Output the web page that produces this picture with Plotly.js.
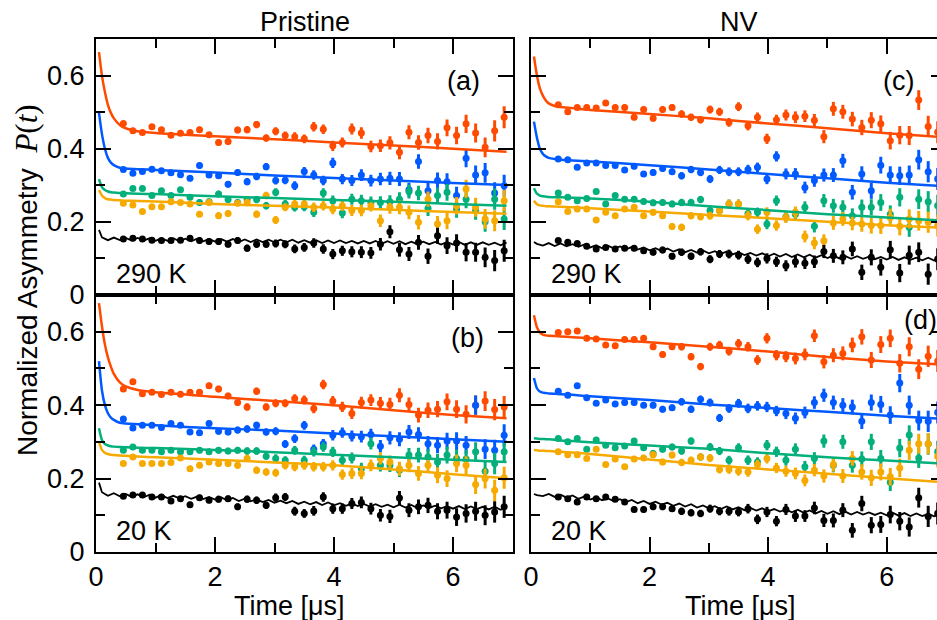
<!DOCTYPE html>
<html><head><meta charset="utf-8">
<script src="https://cdn.plot.ly/plotly-3.0.1.min.js"></script>
<style>html,body{margin:0;padding:0;overflow:hidden;background:#fff;width:937px;height:620px}</style>
</head><body><div id="plot" style="width:948px;height:620px"></div>
<script>
// ---- data ----
const times = [0.46,0.62,0.78,0.94,1.10,1.26,1.42,1.58,1.74,1.90,2.06,2.22,2.38,2.54,2.70,2.86,3.02,3.18,3.34,3.50,3.66,3.82,3.98,4.14,4.30,4.46,4.62,4.78,4.94,5.10,5.26,5.42,5.58,5.74,5.90,6.06,6.22,6.38,6.54,6.70,6.86];
const errBar = [0.006,0.006,0.006,0.007,0.007,0.007,0.007,0.008,0.008,0.008,0.009,0.009,0.009,0.010,0.010,0.010,0.011,0.011,0.012,0.012,0.013,0.013,0.014,0.014,0.015,0.016,0.016,0.017,0.018,0.019,0.019,0.020,0.021,0.022,0.023,0.024,0.025,0.026,0.027,0.029,0.030];

// (a) Pristine 290 K
const aRed = [0.469,0.449,0.444,0.460,0.452,0.437,0.442,0.444,0.452,0.438,0.417,0.420,0.451,0.452,0.466,0.429,0.448,0.436,0.433,0.427,0.460,0.453,0.408,0.417,0.454,0.443,0.406,0.408,0.416,0.390,0.445,0.417,0.436,0.420,0.457,0.436,0.468,0.443,0.404,0.449,0.486];
const aBlue = [0.343,0.333,0.338,0.344,0.340,0.334,0.329,0.319,0.354,0.328,0.326,0.303,0.335,0.310,0.324,0.351,0.313,0.314,0.299,0.338,0.328,0.313,0.361,0.317,0.313,0.328,0.313,0.317,0.319,0.317,0.288,0.365,0.285,0.313,0.310,0.272,0.374,0.328,0.334,0.279,0.299];
const aGreen = [0.276,0.291,0.291,0.272,0.285,0.272,0.288,0.267,0.253,0.255,0.276,0.261,0.253,0.261,0.261,0.244,0.281,0.249,0.240,0.241,0.226,0.279,0.258,0.224,0.262,0.258,0.253,0.253,0.255,0.262,0.283,0.279,0.237,0.272,0.281,0.235,0.262,0.232,0.200,0.262,0.208];
const aYellow = [0.251,0.246,0.228,0.241,0.241,0.255,0.253,0.249,0.221,0.253,0.217,0.223,0.251,0.253,0.221,0.272,0.205,0.240,0.249,0.249,0.240,0.244,0.235,0.244,0.231,0.231,0.244,0.203,0.240,0.240,0.226,0.199,0.262,0.194,0.203,0.244,0.290,0.240,0.208,0.203,0.258];
const aBlack = [0.153,0.155,0.153,0.150,0.149,0.149,0.150,0.155,0.149,0.146,0.146,0.139,0.149,0.128,0.139,0.139,0.141,0.139,0.126,0.130,0.142,0.126,0.112,0.121,0.118,0.117,0.115,0.139,0.173,0.124,0.112,0.144,0.106,0.162,0.135,0.142,0.117,0.117,0.103,0.094,0.121];

// (b) Pristine 20 K
const bRed = [0.444,0.464,0.431,0.435,0.429,0.435,0.430,0.435,0.435,0.453,0.444,0.425,0.407,0.395,0.438,0.395,0.405,0.405,0.418,0.414,0.391,0.456,0.411,0.395,0.377,0.407,0.414,0.405,0.402,0.427,0.402,0.373,0.386,0.389,0.409,0.389,0.375,0.400,0.411,0.388,0.395];
const bBlue = [0.362,0.338,0.345,0.345,0.339,0.350,0.345,0.327,0.325,0.350,0.329,0.327,0.332,0.335,0.345,0.327,0.329,0.294,0.309,0.345,0.280,0.295,0.318,0.325,0.316,0.314,0.320,0.288,0.311,0.307,0.327,0.320,0.295,0.291,0.302,0.302,0.291,0.400,0.280,0.277,0.318];
const bGreen = [0.277,0.286,0.277,0.277,0.273,0.277,0.273,0.273,0.277,0.273,0.277,0.275,0.277,0.275,0.275,0.261,0.255,0.250,0.277,0.250,0.273,0.286,0.273,0.250,0.256,0.227,0.295,0.236,0.236,0.223,0.264,0.264,0.259,0.245,0.264,0.255,0.253,0.273,0.220,0.241,0.273];
const bYellow = [0.241,0.259,0.241,0.241,0.241,0.244,0.256,0.227,0.236,0.245,0.241,0.241,0.236,0.255,0.223,0.218,0.216,0.236,0.232,0.236,0.232,0.232,0.236,0.211,0.214,0.214,0.236,0.255,0.245,0.227,0.236,0.214,0.236,0.209,0.200,0.241,0.236,0.184,0.200,0.168,0.202];
const bBlack = [0.152,0.155,0.155,0.150,0.150,0.139,0.145,0.129,0.148,0.141,0.144,0.145,0.123,0.144,0.141,0.127,0.148,0.150,0.111,0.105,0.112,0.150,0.118,0.118,0.132,0.135,0.118,0.100,0.097,0.147,0.114,0.123,0.127,0.111,0.114,0.095,0.105,0.111,0.100,0.109,0.123];

// (c) NV 290 K
const cRed = [0.520,0.501,0.513,0.513,0.511,0.525,0.513,0.513,0.486,0.507,0.483,0.507,0.513,0.495,0.486,0.479,0.507,0.501,0.472,0.515,0.463,0.486,0.427,0.479,0.492,0.486,0.489,0.478,0.433,0.509,0.501,0.481,0.458,0.478,0.468,0.422,0.437,0.436,0.533,0.461,0.445];
const cBlue = [0.372,0.370,0.349,0.361,0.361,0.354,0.354,0.342,0.352,0.331,0.335,0.346,0.337,0.326,0.343,0.335,0.317,0.342,0.337,0.337,0.343,0.349,0.317,0.379,0.331,0.331,0.294,0.313,0.328,0.328,0.367,0.281,0.331,0.285,0.355,0.328,0.326,0.328,0.370,0.337,0.317];
const cGreen = [0.279,0.267,0.258,0.264,0.283,0.249,0.272,0.262,0.262,0.256,0.252,0.253,0.249,0.253,0.253,0.261,0.231,0.231,0.249,0.249,0.223,0.226,0.194,0.258,0.214,0.221,0.240,0.188,0.258,0.244,0.240,0.217,0.240,0.240,0.253,0.221,0.267,0.185,0.262,0.255,0.244];
const cYellow = [0.255,0.228,0.235,0.235,0.205,0.226,0.217,0.235,0.240,0.217,0.226,0.217,0.187,0.185,0.217,0.214,0.217,0.231,0.249,0.249,0.217,0.180,0.226,0.190,0.212,0.226,0.160,0.142,0.148,0.197,0.208,0.197,0.194,0.190,0.190,0.212,0.188,0.208,0.203,0.199,0.190];
const cBlack = [0.149,0.144,0.141,0.133,0.126,0.130,0.126,0.128,0.128,0.121,0.117,0.123,0.106,0.117,0.106,0.118,0.098,0.112,0.112,0.109,0.098,0.089,0.100,0.091,0.080,0.091,0.087,0.091,0.119,0.107,0.103,0.126,0.062,0.103,0.076,0.124,0.060,0.109,0.117,0.057,0.098];

// (d) NV 20 K
const dRed = [0.598,0.600,0.602,0.582,0.580,0.564,0.562,0.579,0.579,0.582,0.559,0.538,0.559,0.559,0.532,0.505,0.559,0.564,0.547,0.568,0.559,0.523,0.582,0.536,0.532,0.527,0.538,0.589,0.518,0.536,0.541,0.564,0.586,0.523,0.565,0.582,0.514,0.559,0.498,0.533,0.520];
const dBlue = [0.438,0.427,0.453,0.420,0.405,0.414,0.403,0.407,0.407,0.400,0.400,0.389,0.393,0.409,0.389,0.416,0.407,0.365,0.391,0.405,0.391,0.398,0.395,0.384,0.377,0.364,0.380,0.407,0.427,0.407,0.400,0.395,0.356,0.407,0.402,0.373,0.460,0.400,0.358,0.356,0.380];
const dGreen = [0.309,0.300,0.309,0.280,0.305,0.291,0.284,0.289,0.302,0.284,0.268,0.280,0.286,0.275,0.302,0.259,0.286,0.275,0.250,0.284,0.250,0.245,0.291,0.273,0.250,0.280,0.232,0.255,0.302,0.236,0.300,0.236,0.253,0.300,0.255,0.190,0.283,0.319,0.256,0.294,0.273];
const dYellow = [0.273,0.265,0.265,0.255,0.280,0.238,0.253,0.232,0.253,0.256,0.265,0.245,0.264,0.244,0.250,0.259,0.256,0.225,0.225,0.220,0.218,0.238,0.255,0.229,0.220,0.214,0.195,0.223,0.207,0.238,0.207,0.255,0.218,0.202,0.218,0.205,0.229,0.277,0.295,0.295,0.260];
const dBlack = [0.150,0.145,0.136,0.150,0.145,0.150,0.144,0.136,0.116,0.116,0.123,0.123,0.118,0.111,0.107,0.105,0.118,0.111,0.111,0.109,0.118,0.089,0.109,0.084,0.116,0.098,0.098,0.120,0.086,0.086,0.114,0.059,0.132,0.073,0.075,0.102,0.084,0.068,0.148,0.097,0.105];

// ---- fit curves ----
const fitT = [0.05,0.1,0.15,0.2,0.25,0.3,0.4,0.5,0.7,1,2,3,4,5,6,6.9];
const aRedFit = [0.664,0.600,0.555,0.520,0.498,0.483,0.465,0.456,0.448,0.443,0.434,0.426,0.417,0.409,0.400,0.392];
const aBlueFit = [0.498,0.440,0.400,0.375,0.362,0.355,0.348,0.346,0.344,0.342,0.335,0.327,0.320,0.313,0.306,0.301];
const aGreenFit = [0.317,0.295,0.287,0.283,0.281,0.280,0.279,0.278,0.277,0.276,0.270,0.265,0.260,0.255,0.249,0.244];
const aYellowFit = [0.287,0.272,0.265,0.262,0.261,0.260,0.259,0.258,0.257,0.256,0.249,0.244,0.239,0.233,0.227,0.222];
const bRedFit = [0.678,0.615,0.565,0.530,0.505,0.485,0.462,0.451,0.441,0.435,0.423,0.411,0.400,0.386,0.373,0.364];
const bBlueFit = [0.520,0.440,0.400,0.378,0.366,0.360,0.352,0.350,0.348,0.345,0.337,0.331,0.323,0.315,0.307,0.300];
const bGreenFit = [0.337,0.305,0.294,0.290,0.288,0.287,0.286,0.285,0.284,0.283,0.278,0.272,0.265,0.258,0.251,0.245];
const bYellowFit = [0.300,0.278,0.270,0.267,0.265,0.264,0.263,0.262,0.260,0.258,0.251,0.244,0.236,0.225,0.212,0.201];
const cRedFit = [0.652,0.600,0.565,0.545,0.532,0.524,0.517,0.514,0.511,0.506,0.495,0.483,0.469,0.456,0.442,0.432];
const cBlueFit = [0.474,0.430,0.400,0.386,0.379,0.375,0.372,0.370,0.368,0.365,0.355,0.343,0.331,0.319,0.307,0.298];
const cGreenFit = [0.292,0.277,0.272,0.270,0.269,0.268,0.267,0.267,0.266,0.264,0.255,0.243,0.232,0.221,0.212,0.204];
const cYellowFit = [0.258,0.248,0.245,0.244,0.243,0.243,0.242,0.241,0.240,0.237,0.228,0.219,0.210,0.200,0.191,0.184];
const dRedFit = [0.645,0.612,0.598,0.592,0.590,0.589,0.588,0.587,0.585,0.582,0.571,0.559,0.546,0.531,0.519,0.511];
const dBlueFit = [0.474,0.446,0.437,0.434,0.433,0.432,0.431,0.430,0.428,0.424,0.414,0.402,0.392,0.382,0.371,0.363];
const dGreenFit = [0.310,0.309,0.308,0.308,0.307,0.307,0.306,0.304,0.302,0.299,0.290,0.281,0.269,0.258,0.249,0.241];
const dYellowFit = [0.278,0.277,0.276,0.276,0.275,0.275,0.274,0.273,0.271,0.267,0.252,0.237,0.225,0.213,0.201,0.191];

const blackFitT = [0.05,0.1,0.2,0.3,0.4,0.5,0.6,0.7,0.8,0.9,1.0,1.1,1.2,1.3,1.4,1.5,1.6,1.7,1.8,1.9,2.0,2.1,2.2,2.3,2.4,2.5,2.6,2.7,2.8,2.9,3.0,3.1,3.2,3.3,3.4,3.5,3.6,3.7,3.8,3.9,4.0,4.1,4.2,4.3,4.4,4.5,4.6,4.7,4.8,4.9,5.0,5.1,5.2,5.3,5.4,5.5,5.6,5.7,5.8,5.9,6.0,6.1,6.2,6.3,6.4,6.5,6.6,6.7,6.8,6.9];
const aBlackFit = [0.178,0.158,0.150,0.157,0.150,0.156,0.149,0.156,0.149,0.155,0.148,0.155,0.148,0.155,0.147,0.154,0.147,0.154,0.147,0.153,0.146,0.153,0.146,0.153,0.145,0.152,0.145,0.152,0.145,0.151,0.144,0.151,0.144,0.151,0.143,0.150,0.143,0.150,0.142,0.149,0.142,0.149,0.142,0.148,0.141,0.148,0.141,0.148,0.140,0.147,0.140,0.147,0.139,0.146,0.139,0.146,0.139,0.145,0.138,0.145,0.138,0.145,0.137,0.144,0.137,0.144,0.137,0.143,0.136,0.143];
const bBlackFit = [0.189,0.163,0.153,0.160,0.152,0.158,0.150,0.157,0.149,0.156,0.148,0.155,0.147,0.153,0.146,0.152,0.145,0.151,0.144,0.150,0.143,0.149,0.141,0.147,0.139,0.145,0.138,0.144,0.136,0.142,0.134,0.140,0.133,0.139,0.131,0.137,0.130,0.136,0.128,0.135,0.127,0.133,0.126,0.132,0.125,0.131,0.124,0.130,0.123,0.129,0.122,0.129,0.121,0.128,0.120,0.127,0.120,0.126,0.119,0.125,0.118,0.125,0.117,0.124,0.117,0.123,0.116,0.123,0.115,0.122];
const cBlackFit = [0.145,0.140,0.135,0.142,0.134,0.141,0.133,0.139,0.132,0.138,0.130,0.136,0.128,0.135,0.127,0.133,0.125,0.131,0.124,0.130,0.122,0.128,0.120,0.127,0.119,0.125,0.117,0.123,0.116,0.122,0.114,0.120,0.112,0.119,0.111,0.117,0.109,0.115,0.108,0.114,0.106,0.113,0.105,0.112,0.104,0.111,0.103,0.110,0.102,0.109,0.101,0.108,0.100,0.107,0.099,0.106,0.099,0.105,0.098,0.104,0.097,0.104,0.096,0.103,0.096,0.102,0.095,0.102,0.094,0.101];
const dBlackFit = [0.158,0.155,0.152,0.158,0.150,0.156,0.148,0.154,0.145,0.151,0.143,0.149,0.141,0.146,0.138,0.144,0.136,0.142,0.133,0.139,0.131,0.137,0.129,0.134,0.126,0.132,0.124,0.130,0.121,0.127,0.119,0.125,0.117,0.124,0.116,0.122,0.114,0.120,0.113,0.119,0.111,0.117,0.110,0.116,0.108,0.115,0.107,0.113,0.105,0.112,0.104,0.111,0.103,0.110,0.102,0.109,0.102,0.108,0.101,0.107,0.100,0.107,0.099,0.106,0.098,0.105,0.098,0.104,0.097,0.103];

const seriesColors = ['#FF4B00','#005AFF','#03AF7A','#F6AA00','#000000'];
const panelLabels = ['(a)','(b)','(c)','(d)'];
const tempLabels = ['290 K','20 K','290 K','20 K'];
const columnTitles = ['Pristine','NV'];

// ---- build traces ----
const panels = [
  {xa:'x',  ya:'y',  pts:[aRed,aBlue,aGreen,aYellow,aBlack], fits:[aRedFit,aBlueFit,aGreenFit,aYellowFit], blk:aBlackFit},
  {xa:'x2', ya:'y2', pts:[bRed,bBlue,bGreen,bYellow,bBlack], fits:[bRedFit,bBlueFit,bGreenFit,bYellowFit], blk:bBlackFit},
  {xa:'x3', ya:'y3', pts:[cRed,cBlue,cGreen,cYellow,cBlack], fits:[cRedFit,cBlueFit,cGreenFit,cYellowFit], blk:cBlackFit},
  {xa:'x4', ya:'y4', pts:[dRed,dBlue,dGreen,dYellow,dBlack], fits:[dRedFit,dBlueFit,dGreenFit,dYellowFit], blk:dBlackFit}
];
const traces = [];
panels.forEach(p => {
  p.pts.forEach((s, i) => {
    traces.push({x: times, y: s, xaxis: p.xa, yaxis: p.ya, mode: 'markers', type: 'scatter',
      marker: {color: seriesColors[i], size: 7, symbol: 'circle'},
      error_y: {type: 'data', array: errBar, visible: true, thickness: 3, width: 0, color: seriesColors[i]},
      hoverinfo: 'skip'});
  });
  p.fits.forEach((f, i) => {
    traces.push({x: fitT, y: f, xaxis: p.xa, yaxis: p.ya, mode: 'lines', type: 'scatter',
      line: {color: seriesColors[i], width: 2.5, shape: 'spline', smoothing: 0.6}, hoverinfo: 'skip'});
  });
  traces.push({x: blackFitT, y: p.blk, xaxis: p.xa, yaxis: p.ya, mode: 'lines', type: 'scatter',
    line: {color: '#000000', width: 1.8}, hoverinfo: 'skip'});
});

// ---- layout ----
const W = 948, H = 620;
const FONT = 'Liberation Sans, Arial, sans-serif';
const domL = [96/W, 512.5/W], domR = [531/W, 946/W];
const domT = [1-295/H, 1-39/H], domB = [1-552/H, 1-295/H];
function xax(dom, anchor, labels) {
  return {domain: dom, anchor: anchor, range: [0, 7], showline: true, linewidth: 2, linecolor: '#000', mirror: 'ticks',
    ticks: 'inside', ticklen: 15, tickwidth: 2, tickcolor: '#000', tick0: 0, dtick: 2,
    minor: {tick0: 0, dtick: 1, ticks: 'inside', ticklen: 9, tickwidth: 2, tickcolor: '#000', showgrid: false},
    showgrid: false, zeroline: false, showticklabels: labels, tickfont: {family: FONT, size: 27, color: '#000'}};
}
function yax(dom, anchor, labels) {
  return {domain: dom, anchor: anchor, range: [0, 0.7], showline: true, linewidth: 2, linecolor: '#000', mirror: 'ticks',
    ticks: 'inside', ticklen: 15, tickwidth: 2, tickcolor: '#000', tick0: 0, dtick: 0.2,
    minor: {tick0: 0, dtick: 0.1, ticks: 'inside', ticklen: 9, tickwidth: 2, tickcolor: '#000', showgrid: false},
    showgrid: false, zeroline: false, showticklabels: labels, ticklabelstandoff: 4,
    tickfont: {family: FONT, size: 27, color: '#000'}};
}
function px(v) { return v / W; }
function py(v) { return 1 - v / H; }
function ann(text, x, y, xanchor, size) {
  return {text: text, x: px(x), y: py(y), xref: 'paper', yref: 'paper', showarrow: false,
    xanchor: xanchor || 'center', yanchor: 'middle', font: {family: FONT, size: size || 27, color: '#000'}};
}
const annotations = [
  ann(columnTitles[0], 305, 22), ann(columnTitles[1], 739, 22),
  ann(panelLabels[0], 463, 81), ann(panelLabels[1], 467, 338),
  ann(panelLabels[2], 898, 81), ann(panelLabels[3], 920, 320),
  ann(tempLabels[0], 114, 274, 'left'), ann(tempLabels[1], 114, 531, 'left'),
  ann(tempLabels[2], 549, 274, 'left'), ann(tempLabels[3], 549, 531, 'left'),
  ann('Time [μs]', 289, 606), ann('Time [μs]', 740, 606),
  Object.assign(ann('Normalized Asymmetry  <span style="font-family:Liberation Serif;font-size:31px"><i>P</i>(<i>t</i>)</span>', 26, 280, 'center', 28), {textangle: -90})
];
const layout = {
  width: W, height: H, margin: {l: 0, r: 0, t: 0, b: 0}, paper_bgcolor: '#fff', plot_bgcolor: 'rgba(0,0,0,0)',
  font: {family: FONT, size: 27, color: '#000'},
  showlegend: false, hovermode: false,
  xaxis: xax(domL, 'y', false), yaxis: yax(domT, 'x', true),
  xaxis2: xax(domL, 'y2', true), yaxis2: yax(domB, 'x2', true),
  xaxis3: xax(domR, 'y3', false), yaxis3: yax(domT, 'x3', false),
  xaxis4: xax(domR, 'y4', true), yaxis4: yax(domB, 'x4', false),
  annotations: annotations
};
Plotly.newPlot('plot', traces, layout, {displayModeBar: false, staticPlot: true});
</script></body></html>
